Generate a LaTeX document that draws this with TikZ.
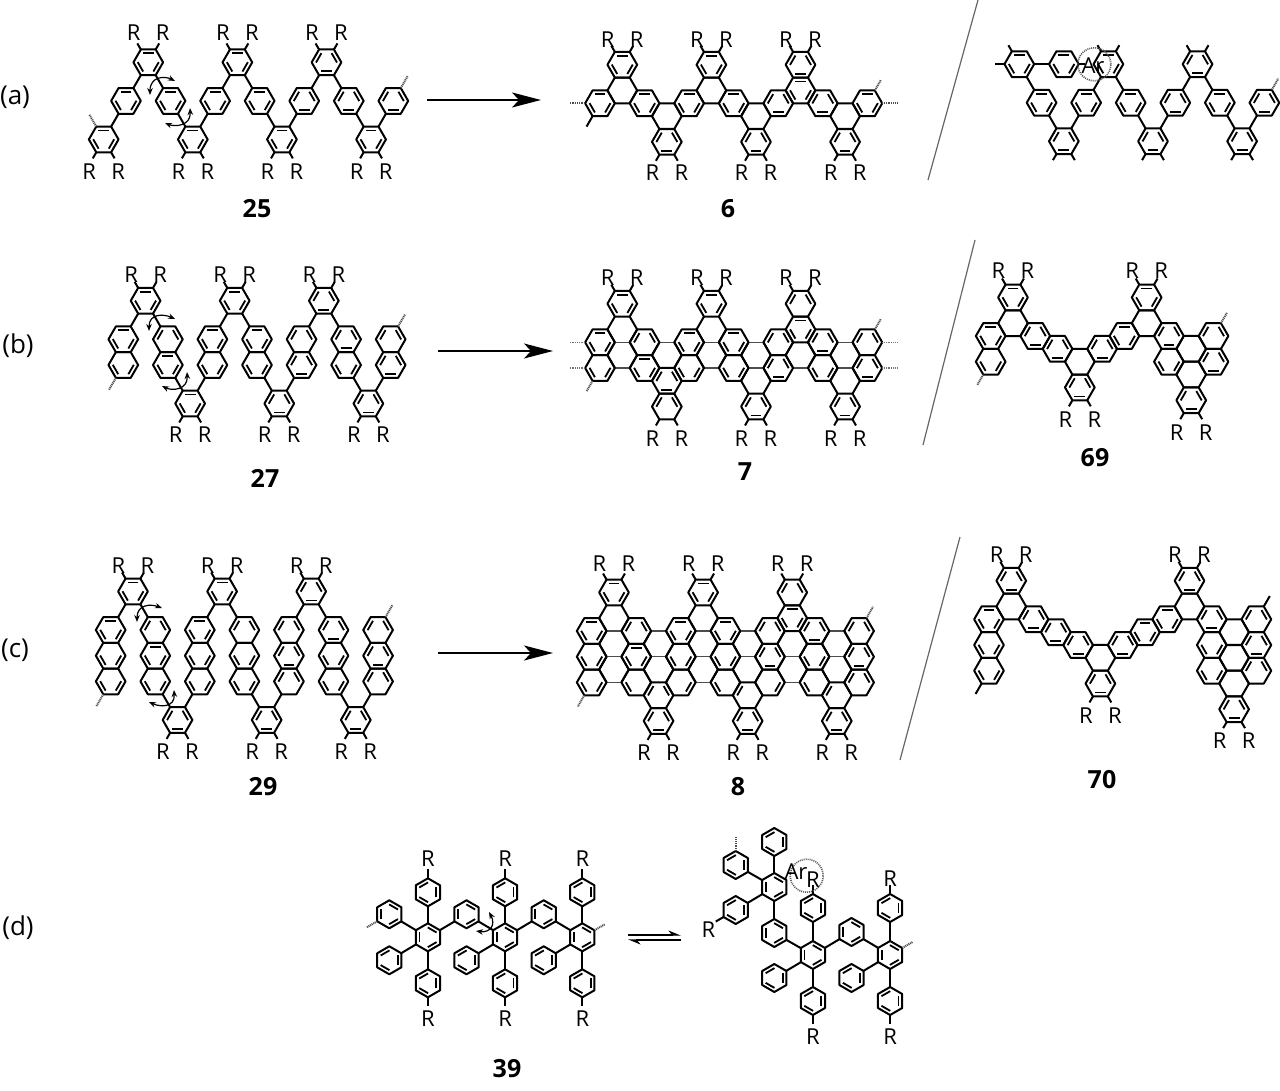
\documentclass[tikz,border=0pt]{standalone}
\usepackage{fontspec}
\setmainfont{Open Sans}
\usetikzlibrary{calc}
\usetikzlibrary{arrows.meta}

\def\rr{14.85pt}
\def\ri{10.5pt}
\def\ringrot{0}

\tikzset{
	bnd/.style={line width=2pt,black,line join=round},
	dbl/.style={line width=1.8pt,black},
	thinbnd/.style={line width=1.1pt,black!70},
	wavy end/.style={line width=2pt,black!70,dash pattern=on 1pt off 0.8pt},
	thin end/.style={line width=1.1pt,black!55,dash pattern=on 1pt off 0.8pt},
	lat/.style={x=22.28pt,y=-12.85pt},
	rlab/.style={font=\fontsize{22}{22}\selectfont,inner sep=0pt},
	cpd/.style={font=\fontsize{25}{25}\selectfont\bfseries,inner sep=0pt},
	panel/.style={font=\fontsize{26}{26}\selectfont,inner sep=0pt},
	rxn/.style={line width=1.5pt,-{Stealth[length=29pt,width=15pt,inset=7pt]}},
	slash/.style={line width=1.2pt,black!60},
	twist/.style={line width=1.2pt,{Stealth[length=7pt,width=5.5pt]}-{Stealth[length=7pt,width=5.5pt]}},
	closeup/.style={circle,draw=black!65,line width=1.6pt,dash pattern=on 1pt off 1pt,minimum size=33pt,inner sep=0pt}
}

\newcommand{\ring}[3]{%
	\coordinate (r#1_#2) at (#1,#2);
	\begin{scope}[shift={(#1,#2)}]
		\draw[bnd] (\ringrot:\rr) -- ({\ringrot+60}:\rr) -- ({\ringrot+120}:\rr) -- ({\ringrot+180}:\rr) -- ({\ringrot+240}:\rr) -- ({\ringrot+300}:\rr) -- cycle;
		\foreach \e in #3 {\ifnum\e<6 \draw[dbl] ({90-\ringrot-60*\e-31}:\ri) -- ({90-\ringrot-60*\e+31}:\ri);\fi}
	\end{scope}}
\newcommand{\thinhex}[2]{%
	\begin{scope}[shift={(#1,#2)}]
		\draw[bnd] (120:\rr) -- (180:\rr) -- (240:\rr);
		\draw[bnd] (60:\rr) -- (0:\rr) -- (-60:\rr);
		\draw[thinbnd] (60:\rr) -- (120:\rr);
		\draw[thinbnd] (240:\rr) -- (300:\rr);
	\end{scope}}
\newcommand{\lnk}[2]{\draw[bnd] ($(r#1)!\rr!(r#2)$) -- ($(r#2)!\rr!(r#1)$);}
\newcommand{\stub}[5][bnd]{\begin{scope}[shift={(#2,#3)}]\draw[#1] (#4:\rr) -- (#4:{\rr+#5pt});\end{scope}}
\newcommand{\Rup}[3]{%
	\stub{#1}{#2}{120}{7}\stub{#1}{#2}{60}{7}
	\begin{scope}[shift={(#1,#2)}]
		\node[rlab] (Ra#1_#2) at (-14.5pt,#3pt) {R};
		\node[rlab] (Rb#1_#2) at (14.5pt,#3pt) {R};
	\end{scope}}
\newcommand{\Rdn}[3]{%
	\stub{#1}{#2}{240}{7}\stub{#1}{#2}{300}{7}
	\begin{scope}[shift={(#1,#2)}]
		\node[rlab] (Ra#1_#2) at (-14.5pt,-#3pt) {R};
		\node[rlab] (Rb#1_#2) at (14.5pt,-#3pt) {R};
	\end{scope}}

\begin{document}
\begin{tikzpicture}[x=1pt,y=-1pt]
	\useasboundingbox (0,0) rectangle (1280,1091);

	\node[panel] (pa) at (15,97) {(a)};
	\node[panel] (pb) at (18,346) {(b)};
	\node[panel] (pc) at (15,650) {(c)};
	\node[panel] (pd) at (18,928) {(d)};

	\node[cpd] (n25) at (257,209) {25};
	\node[cpd] (n6) at (728,209) {6};
	\node[cpd] (n27) at (265,478) {27};
	\node[cpd] (n7) at (745,472) {7};
	\node[cpd] (n69) at (1095,458) {69};
	\node[cpd] (n29) at (263,787) {29};
	\node[cpd] (n8) at (738,787) {8};
	\node[cpd] (n70) at (1102,780) {70};
	\node[cpd] (n39) at (507,1069) {39};

	\foreach \nm/\xa/\xb/\yy in {a/427/541/100,b/438/553/351,c/438/553/653}{
		\coordinate (\nm s) at (\xa,\yy);
		\coordinate (\nm e) at (\xb,\yy);
		\draw[rxn] (\nm s) -- (\nm e);
	}
	\foreach \nm/\xa/\ya/\xb/\yb in {a/978/0/928/180,b/975/240/923/445,c/960/537/900/760}{
		\coordinate (\nm t) at (\xa,\ya);
		\coordinate (\nm u) at (\xb,\yb);
		\draw[slash] (\nm t) -- (\nm u);
	}

	% panel a
	\begin{scope}[shift={(103.7,100.9)},lat,name prefix=m25-]
		\foreach \col/\row/\dbl in {0/3/{0,2,4},1/0/{0,2,4},2/-3/{0,2,4},3/0/{0,2,4},4/3/{0,2,4},5/0/{0,2,4},6/-3/{0,2,4},7/0/{0,2,4},8/3/{0,2,4},9/0/{1,3,5},10/-3/{1,3,5},11/0/{1,3,5},12/3/{0,2,4},13/0/{1,3,5}}
			{\ring{\col}{\row}{\dbl}}
		\foreach \p/\q in {0_3/1_0,1_0/2_-3,2_-3/3_0,3_0/4_3,4_3/5_0,5_0/6_-3,6_-3/7_0,7_0/8_3,8_3/9_0,9_0/10_-3,10_-3/11_0,11_0/12_3,12_3/13_0}
			{\lnk{\p}{\q}}
		\foreach \col in {2,6,10} {\Rup{\col}{-3}{30}}
		\foreach \col in {0,4,8,12} {\Rdn{\col}{3}{32.5}}
		\stub[wavy end]{0}{3}{120}{14}
		\stub[wavy end]{13}{0}{60}{14}
	\end{scope}
	\draw[twist] (150,95) .. controls (150,76) and (165,76) .. (175,81);
	\draw[twist] (190,108) .. controls (191,126) and (175,127) .. (165,123);

	\begin{scope}[shift={(600,103.3)},lat,name prefix=m6-]
		\foreach \col/\row/\dbl in {1/-1/9,3/1/9,5/-1/9,7/1/9,11/1/9,0/0/{0,2,4},1/-3/{0,2,4},2/0/{0,2,4},3/3/{1,3,5},4/0/{0,2,4},5/-3/{0,2,4},6/0/{0,2,4},7/3/{1,3,5},8/0/{1,3,5},9/-1/{0,2,4},9/-3/{1,3,5},10/0/{1,3,5},11/3/{1,3,5},12/0/{0,2,4}}
			{\ring{\col}{\row}{\dbl}}
		\foreach \col in {1,5,9} {\Rup{\col}{-3}{25.5}}
		\foreach \col in {3,7,11} {\Rdn{\col}{3}{31}}
		\stub[wavy end]{0}{0}{180}{15}
		\stub[bnd]{0}{0}{240}{12}
		\stub[wavy end]{12}{0}{0}{15}
		\stub[wavy end]{12}{0}{60}{12}
	\end{scope}

	\begin{scope}[shift={(1019.3,102.7)},lat,name prefix=mA-]
		\foreach \col/\row/\dbl in {0/-3/{0,2,4},2/-3/{0,2,4},4/-3/{0,2,4},8/-3/{1,3,5},1/0/{0,2,4},3/0/{0,2,4},5/0/{0,2,4},7/0/{1,3,5},9/0/{0,2,4},11/0/{1,3,5},2/3/{1,3,5},6/3/{1,3,5},10/3/{1,3,5}}
			{\ring{\col}{\row}{\dbl}}
		\foreach \p/\q in {0_-3/2_-3,0_-3/1_0,1_0/2_3,2_3/3_0,3_0/4_-3,4_-3/5_0,5_0/6_3,6_3/7_0,7_0/8_-3,8_-3/9_0,9_0/10_3,10_3/11_0}
			{\lnk{\p}{\q}}
		\stub{0}{-3}{120}{7}
		\stub{0}{-3}{180}{9}
		\stub{2}{-3}{0}{6}
		\foreach \col in {4,8} {\stub{\col}{-3}{120}{7}\stub{\col}{-3}{60}{7}}
		\foreach \col in {2,6,10} {\stub{\col}{3}{240}{7}\stub{\col}{3}{300}{7}}
		\stub[wavy end]{11}{0}{60}{13}
	\end{scope}
	\node[closeup] (circA) at (1094.3,64.3) {};
	\node[rlab] (arA) at (1093,66) {Ar};

	% panel b
	\begin{scope}[shift={(123.3,339.3)},lat,name prefix=m27-]
		\foreach \col/\row/\dbl in {0/0/{0,2,4},0/2/{2,4},1/-3/{0,2,4},2/0/{1,5},2/2/{0,2,4},3/5/{0,2,4},4/0/{0,2,4},4/2/{2,4},5/-3/{0,2,4},6/0/{0,2,4},6/2/{2,4},7/5/{1,3,5},8/0/{1,5},8/2/{1,3,5},9/-3/{1,3,5},10/0/{1,3,5},10/2/{2,4},11/5/{1,3,5},12/0/{1,5},12/2/{1,3,5}}
			{\ring{\col}{\row}{\dbl}}
		\foreach \p/\q in {0_0/1_-3,1_-3/2_0,2_2/3_5,3_5/4_2,4_0/5_-3,5_-3/6_0,6_2/7_5,7_5/8_2,8_0/9_-3,9_-3/10_0,10_2/11_5,11_5/12_2}
			{\lnk{\p}{\q}}
		\foreach \col in {1,5,9} {\Rup{\col}{-3}{26}}
		\foreach \col in {3,7,11} {\Rdn{\col}{5}{31}}
		\stub[wavy end]{0}{2}{240}{14}
		\stub[wavy end]{12}{0}{60}{14}
	\end{scope}
	\draw[twist] (149,331) .. controls (149,313) and (164,314) .. (175,319);
	\draw[twist] (187,372) .. controls (188,390) and (172,391) .. (162,386);

	\begin{scope}[shift={(600,342.3)},lat,name prefix=m7-]
		\foreach \col/\row in {1/-1,1/1,3/1,5/-1,5/1,7/1,7/3,9/1,11/1,11/3}
			{\thinhex{\col}{\row}}
		\foreach \col/\row/\dbl in {0/0/{0,2,4},0/2/{2,4},1/-3/{0,2,4},2/0/{1,5},2/2/{0,2,4},3/3/{1,3,5},3/5/{1,5},4/0/{0,2,4},4/2/{2,4},5/-3/{0,2,4},6/0/{0,2,4},6/2/{2,4},7/5/{1,3,5},8/0/{1,5},8/2/{1,3,5},9/-3/{1,5},9/-1/{0,2,4},10/0/{1,3,5},10/2/{2,4},11/5/{1,3,5},12/0/{1,5},12/2/{1,3,5}}
			{\ring{\col}{\row}{\dbl}}
		\foreach \col in {1,5,9} {\Rup{\col}{-3}{26.5}}
		\foreach \col in {3,7,11} {\Rdn{\col}{5}{32.5}}
		\foreach \row in {0,2} {\stub[thin end]{0}{\row}{180}{15}\stub[thin end]{12}{\row}{0}{15}}
		\stub[wavy end]{0}{2}{240}{12}
		\stub[wavy end]{12}{0}{60}{12}
	\end{scope}

	\begin{scope}[shift={(990.7,336)},lat,name prefix=m69-]
		\foreach \col/\row/\dbl in {1/-1/9,4/2/9,7/-1/9,9/1/9,9/3/9,0/0/{0,2,4},0/2/{2,4},1/-3/{0,2,4},2/0/{1,3,5},3/1/{1,3,5},4/4/{1,3,5},5/1/{1,3,5},6/0/{0,2,4},7/-3/{0,2,4},8/0/{1,3,5},8/2/{2,4},10/0/{1,5},10/2/{1,3,5},9/5/{1,3,5}}
			{\ring{\col}{\row}{\dbl}}
		\Rup{1}{-3}{26.5}
		\Rup{7}{-3}{26.5}
		\Rdn{4}{4}{32}
		\Rdn{9}{5}{32}
		\stub[wavy end]{0}{2}{240}{12}
		\stub[wavy end]{10}{0}{60}{12}
	\end{scope}

	% panel c
	\begin{scope}[shift={(110.7,630)},lat,name prefix=m29-]
		\foreach \col/\row/\dbl in {0/0/{0,2,4},0/2/{2,4},0/4/{2,4},1/-3/{0,2,4},2/0/{1,5},2/2/{0,2,4},2/4/{2,4},3/7/{1,3,5},4/0/{0,2,4},4/2/{2,4},4/4/{2,4},5/-3/{0,2,4},6/0/{1,5},6/2/{2,4},6/4/{2,4},7/7/{1,3,5},8/0/{1,5},8/2/{1,3,5},8/4/{1,5},9/-3/{1,3,5},10/0/{1,3,5},10/2/{2,4},10/4/{2,4},11/7/{1,3,5},12/0/{1,5},12/2/{1,3,5},12/4/{1,5}}
			{\ring{\col}{\row}{\dbl}}
		\foreach \p/\q in {0_0/1_-3,1_-3/2_0,2_4/3_7,3_7/4_4,4_0/5_-3,5_-3/6_0,6_4/7_7,7_7/8_4,8_0/9_-3,9_-3/10_0,10_4/11_7,11_7/12_4}
			{\lnk{\p}{\q}}
		\foreach \col in {1,5,9} {\Rup{\col}{-3}{26}}
		\foreach \col in {3,7,11} {\Rdn{\col}{7}{32}}
		\stub[wavy end]{0}{4}{240}{14}
		\stub[wavy end]{12}{0}{60}{14}
	\end{scope}
	\draw[twist] (137,622) .. controls (137,604) and (151,604) .. (162,608);
	\draw[twist] (174,690) .. controls (175,708) and (160,707) .. (149,702);

	\begin{scope}[shift={(591.7,631)},lat,name prefix=m8-]
		\foreach \col/\row in {1/-1,1/1,1/3,3/1,3/3,5/-1,5/1,5/3,7/1,7/3,9/1,9/3,11/1,11/3}
			{\thinhex{\col}{\row}}
		\foreach \col/\row/\dbl in {0/0/{0,2,4},0/2/{2,4},0/4/{2,4},1/-3/{0,2,4},2/0/{1,5},2/2/{0,2,4},2/4/4,3/5/{1,5},3/7/{1,3,5},4/0/{0,2,4},4/2/{2,4},4/4/2,5/-3/{0,2,4},6/0/{0,2,4},6/2/{2,4},6/4/4,7/5/5,7/7/{1,3,5},8/0/{1,5},8/2/{1,3,5},8/4/2,9/-3/{1,5},9/-1/{0,2,4},10/0/{1,3,5},10/2/{2,4},10/4/4,11/5/5,11/7/{1,3,5},12/0/{1,5},12/2/{1,3,5},12/4/{1,5}}
			{\ring{\col}{\row}{\dbl}}
		\foreach \col in {1,5,9} {\Rup{\col}{-3}{28.5}}
		\foreach \col in {3,7,11} {\Rdn{\col}{7}{32}}
		\stub[wavy end]{0}{4}{240}{13}
		\stub[wavy end]{12}{0}{60}{13}
	\end{scope}

	\begin{scope}[shift={(989,619.3)},lat,name prefix=m70-]
		\foreach \col/\row/\dbl in {1/-1/9,5/3/9,9/-1/9,11/1/9,11/3/9,11/5/9,0/0/{0,2,4},0/2/{2,4},0/4/{2,4},1/-3/{1,3,5},2/0/{1,3,5},3/1/{1,3,5},4/2/{1,3,5},5/5/{1,3,5},6/2/{1,3,5},7/1/{0,2,4},8/0/{0,2,4},9/-3/{1,3,5},10/0/{1,3,5},10/2/{2,4},10/4/{2,4},12/0/{1,5},12/2/{1,3,5},12/4/{1,5},11/7/{1,3,5}}
			{\ring{\col}{\row}{\dbl}}
		\Rup{1}{-3}{26.5}
		\Rup{9}{-3}{26.5}
		\Rdn{5}{5}{32}
		\Rdn{11}{7}{31}
		\stub{0}{4}{240}{12}
		\stub{12}{0}{60}{12}
	\end{scope}

	% panel d
	\begin{scope}[shift={(389.3,937.3)},x=38.6pt,y=-1pt,name prefix=m39-]
		\def\rr{14pt}
		\def\ri{9.9pt}
		\def\ringrot{30}
		\foreach \col/\row/\dbl in {0/-23/{0,2,4},0/23/{1,3,5},1/0/{0,2,4},1/-45/{1,3,5},1/46/{1,3,5},2/-23/{0,2,4},2/23/{1,3,5},3/0/{0,2,4},3/-45/{1,3,5},3/46/{1,3,5},4/-23/{0,2,4},4/23/{1,3,5},5/0/{0,2,4},5/-45/{1,3,5},5/46/{1,3,5}}
			{\ring{\col}{\row}{\dbl}}
		\foreach \p/\q in {1_0/0_-23,1_0/0_23,1_0/1_-45,1_0/1_46,1_0/2_-23,2_-23/3_0,3_0/2_23,3_0/3_-45,3_0/3_46,3_0/4_-23,4_-23/5_0,5_0/4_23,5_0/5_-45,5_0/5_46}
			{\lnk{\p}{\q}}
		\foreach \col in {1,3,5} {
			\stub{\col}{-45}{90}{9}
			\stub{\col}{46}{-90}{9}
			\node[rlab] (Rt\col) at (\col,-79) {R};
			\node[rlab] (Rd\col) at (\col,81) {R};
		}
		\stub[wavy end]{0}{-23}{210}{12}
		\stub[wavy end]{5}{0}{30}{12}
	\end{scope}
	\draw[twist] (489,912) .. controls (496,925) and (490,933) .. (476,931);

	\coordinate (eqa) at (628,935);
	\coordinate (eqb) at (681,935);
	\coordinate (eqc) at (681,940);
	\coordinate (eqd) at (628,940);
	\draw[line width=1.3pt,-{Stealth[harpoon,length=11pt,width=9pt]}] (eqa) -- (eqb);
	\draw[line width=1.3pt,-{Stealth[harpoon,length=11pt,width=9pt]}] (eqc) -- (eqd);

	\begin{scope}[shift={(735.7,955)},x=38.6pt,y=-1pt,name prefix=mB-]
		\def\rr{14pt}
		\def\ri{9.9pt}
		\def\ringrot{30}
		\foreach \col/\row/\dbl in {1/-113/{1,3,5},0/-90/{1,3,5},1/-68/{0,2,4},0/-45/{1,3,5},1/-22/{0,2,4},2/-47/{1,3,5},2/0/{0,2,4},1/23/{1,3,5},2/46/{1,3,5},3/-23/{0,2,4},4/0/{0,2,4},4/-47/{1,3,5},3/23/{1,3,5},4/46/{1,3,5}}
			{\ring{\col}{\row}{\dbl}}
		\foreach \p/\q in {1_-68/1_-113,1_-68/0_-90,1_-68/0_-45,1_-68/1_-22,1_-22/2_0,2_0/2_-47,2_0/1_23,2_0/2_46,2_0/3_-23,3_-23/4_0,4_0/4_-47,4_0/3_23,4_0/4_46}
			{\lnk{\p}{\q}}
		\stub[wavy end]{0}{-90}{90}{14}
		\stub[wavy end]{4}{0}{30}{12}
		\stub{0}{-45}{210}{9}
		\stub{2}{-47}{90}{9}
		\stub{4}{-47}{90}{9}
		\stub{2}{46}{-90}{9}
		\stub{4}{46}{-90}{9}
		\node[rlab] (Rs) at (-0.71,-25) {R};
		\node[rlab] (Rc) at (2,-75) {R};
		\node[rlab] (Re) at (4,-76) {R};
		\node[rlab] (Rf) at (2,82) {R};
		\node[rlab] (Rg) at (4,82) {R};
	\end{scope}
	\node[closeup] (circB) at (806.7,875.7) {};
	\node[rlab] (arB) at (796,872) {Ar};
\end{tikzpicture}
\end{document}
